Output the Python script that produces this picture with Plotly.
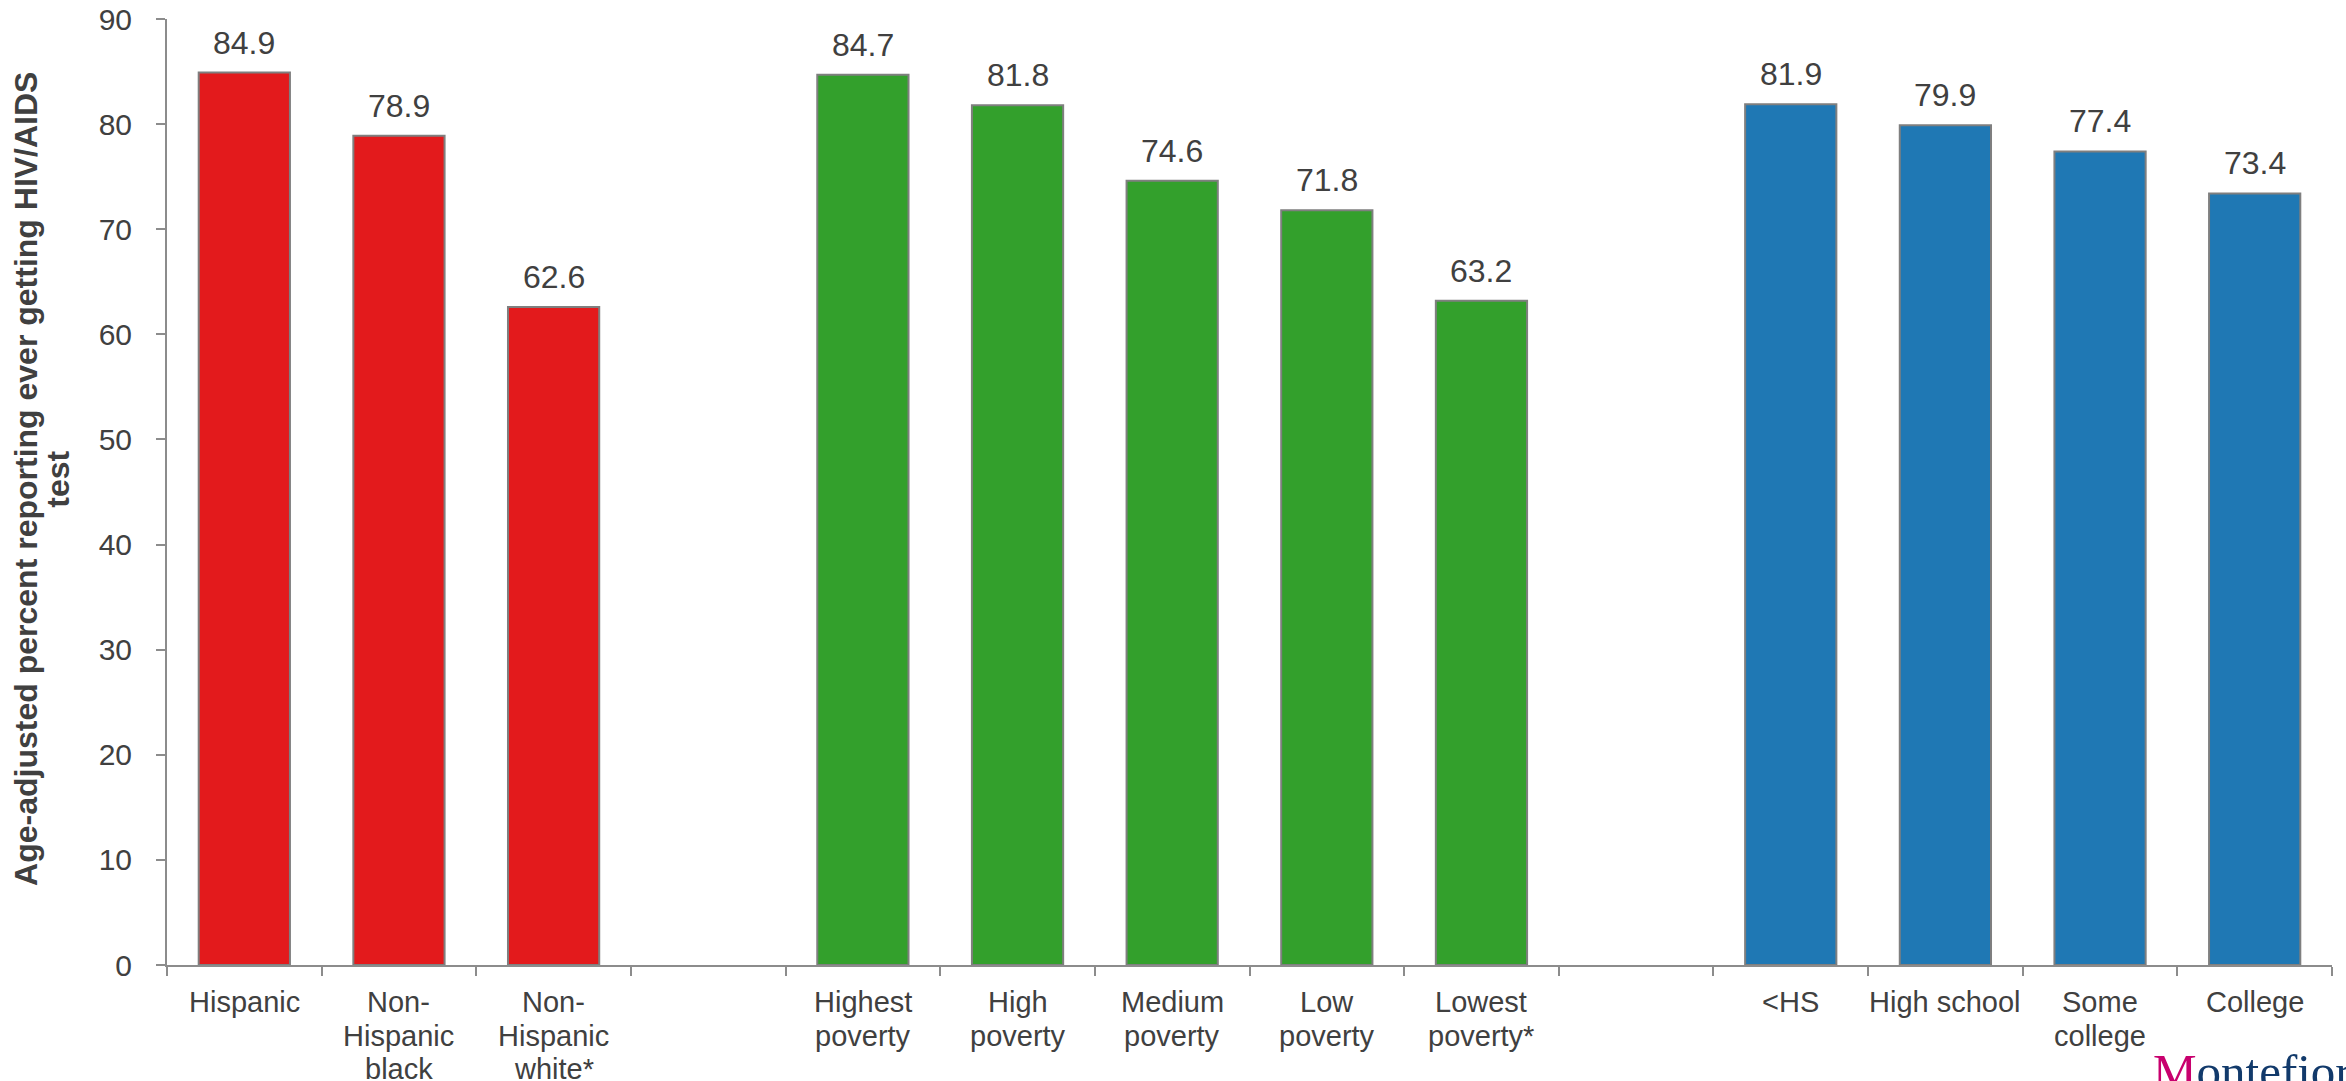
import plotly.graph_objects as go

# Category order on the x axis; blank entries leave a gap between groups
categories = [
    "Hispanic", "Non-<br>Hispanic<br>black", "Non-<br>Hispanic<br>white*", " ",
    "Highest<br>poverty", "High<br>poverty", "Medium<br>poverty", "Low<br>poverty", "Lowest<br>poverty*", "  ",
    "<HS", "High school", "Some<br>college", "College",
]

race_labels = ["Hispanic", "Non-<br>Hispanic<br>black", "Non-<br>Hispanic<br>white*"]
race_values = [84.9, 78.9, 62.6]

poverty_labels = ["Highest<br>poverty", "High<br>poverty", "Medium<br>poverty", "Low<br>poverty", "Lowest<br>poverty*"]
poverty_values = [84.7, 81.8, 74.6, 71.8, 63.2]

education_labels = ["<HS", "High school", "Some<br>college", "College"]
education_values = [81.9, 79.9, 77.4, 73.4]

y_ticks = [0, 10, 20, 30, 40, 50, 60, 70, 80, 90]

y_title_lines = ["Age-adjusted percent reporting ever getting HIV/AIDS", "test"]

TEXT = "#404040"
AXIS = "#8C8C8C"
FONT = "Liberation Sans, Arial, sans-serif"

# Plot-area geometry (pixels) used to place the category label lines
PLOT_TOP, PLOT_BOTTOM = 19, 965
LABEL_FIRST_LINE, LABEL_LINE_STEP = 1002, 33.5

groups = [
    (race_labels, race_values, "#E31A1C"),
    (poverty_labels, poverty_values, "#33A02C"),
    (education_labels, education_values, "#1F78B4"),
]

fig = go.Figure()
annotations = []
for labels, values, color in groups:
    fig.add_trace(go.Bar(
        x=labels, y=values,
        marker=dict(color=color, line=dict(color="#7F7F7F", width=2)),
        showlegend=False,
    ))
    for lab, val in zip(labels, values):
        annotations.append(dict(
            x=lab, y=val, xref="x", yref="y",
            text=f"{val:.1f}", showarrow=False,
            yanchor="bottom", yshift=10,
            font=dict(family=FONT, size=32, color=TEXT),
        ))

# Category labels below the axis, drawn line by line for tight line spacing
plot_h = PLOT_BOTTOM - PLOT_TOP
for cat in categories:
    for i, line in enumerate(cat.split("<br>")):
        if not line.strip():
            continue
        py = LABEL_FIRST_LINE + i * LABEL_LINE_STEP
        annotations.append(dict(
            x=cat, xref="x", yref="paper", y=(PLOT_BOTTOM - py) / plot_h,
            xanchor="center", yanchor="middle", showarrow=False,
            text=line.replace("<", "&lt;"),
            font=dict(family=FONT, size=29, color=TEXT),
        ))

# Rotated y-axis title, one annotation per line for tight line spacing
for xpos, line in zip([-0.0652, -0.0505], y_title_lines):
    annotations.append(dict(
        xref="paper", yref="paper", x=xpos, y=0.5137,
        xanchor="center", yanchor="middle", textangle=-90, showarrow=False,
        text=f"<b>{line}</b>",
        font=dict(family=FONT, size=32, color=TEXT),
    ))

# Institution wordmark in the lower right corner
annotations.append(dict(
    xref="paper", yref="paper", x=0.9164, y=-0.0814,
    xanchor="left", yanchor="top", showarrow=False,
    text="<span style='color:#C8006E'>M</span>ontefiore",
    font=dict(family="Liberation Serif, Times New Roman, serif", size=49, color="#123A6B"),
))

fig.update_layout(
    width=2346, height=1081,
    margin=dict(l=167, r=14, t=PLOT_TOP, b=1081 - PLOT_BOTTOM, pad=0),
    paper_bgcolor="white", plot_bgcolor="white",
    barmode="overlay", bargap=0.41,
    font=dict(family=FONT, color=TEXT),
    annotations=annotations,
    xaxis=dict(
        type="category", categoryorder="array", categoryarray=categories,
        range=[-0.5, len(categories) - 0.5],
        showline=True, linecolor=AXIS, linewidth=2,
        ticks="outside", tickson="boundaries", ticklen=9, tickwidth=2, tickcolor=AXIS,
        showticklabels=False,
        showgrid=False, zeroline=False, automargin=False,
    ),
    yaxis=dict(
        range=[0, 90], tickvals=y_ticks,
        showline=True, linecolor=AXIS, linewidth=2,
        ticks="outside", ticklen=9, tickwidth=2, tickcolor=AXIS,
        tickfont=dict(family=FONT, size=30, color=TEXT),
        ticklabelstandoff=18,
        showgrid=False, zeroline=False, automargin=False,
    ),
)

fig.write_html("out.html")
